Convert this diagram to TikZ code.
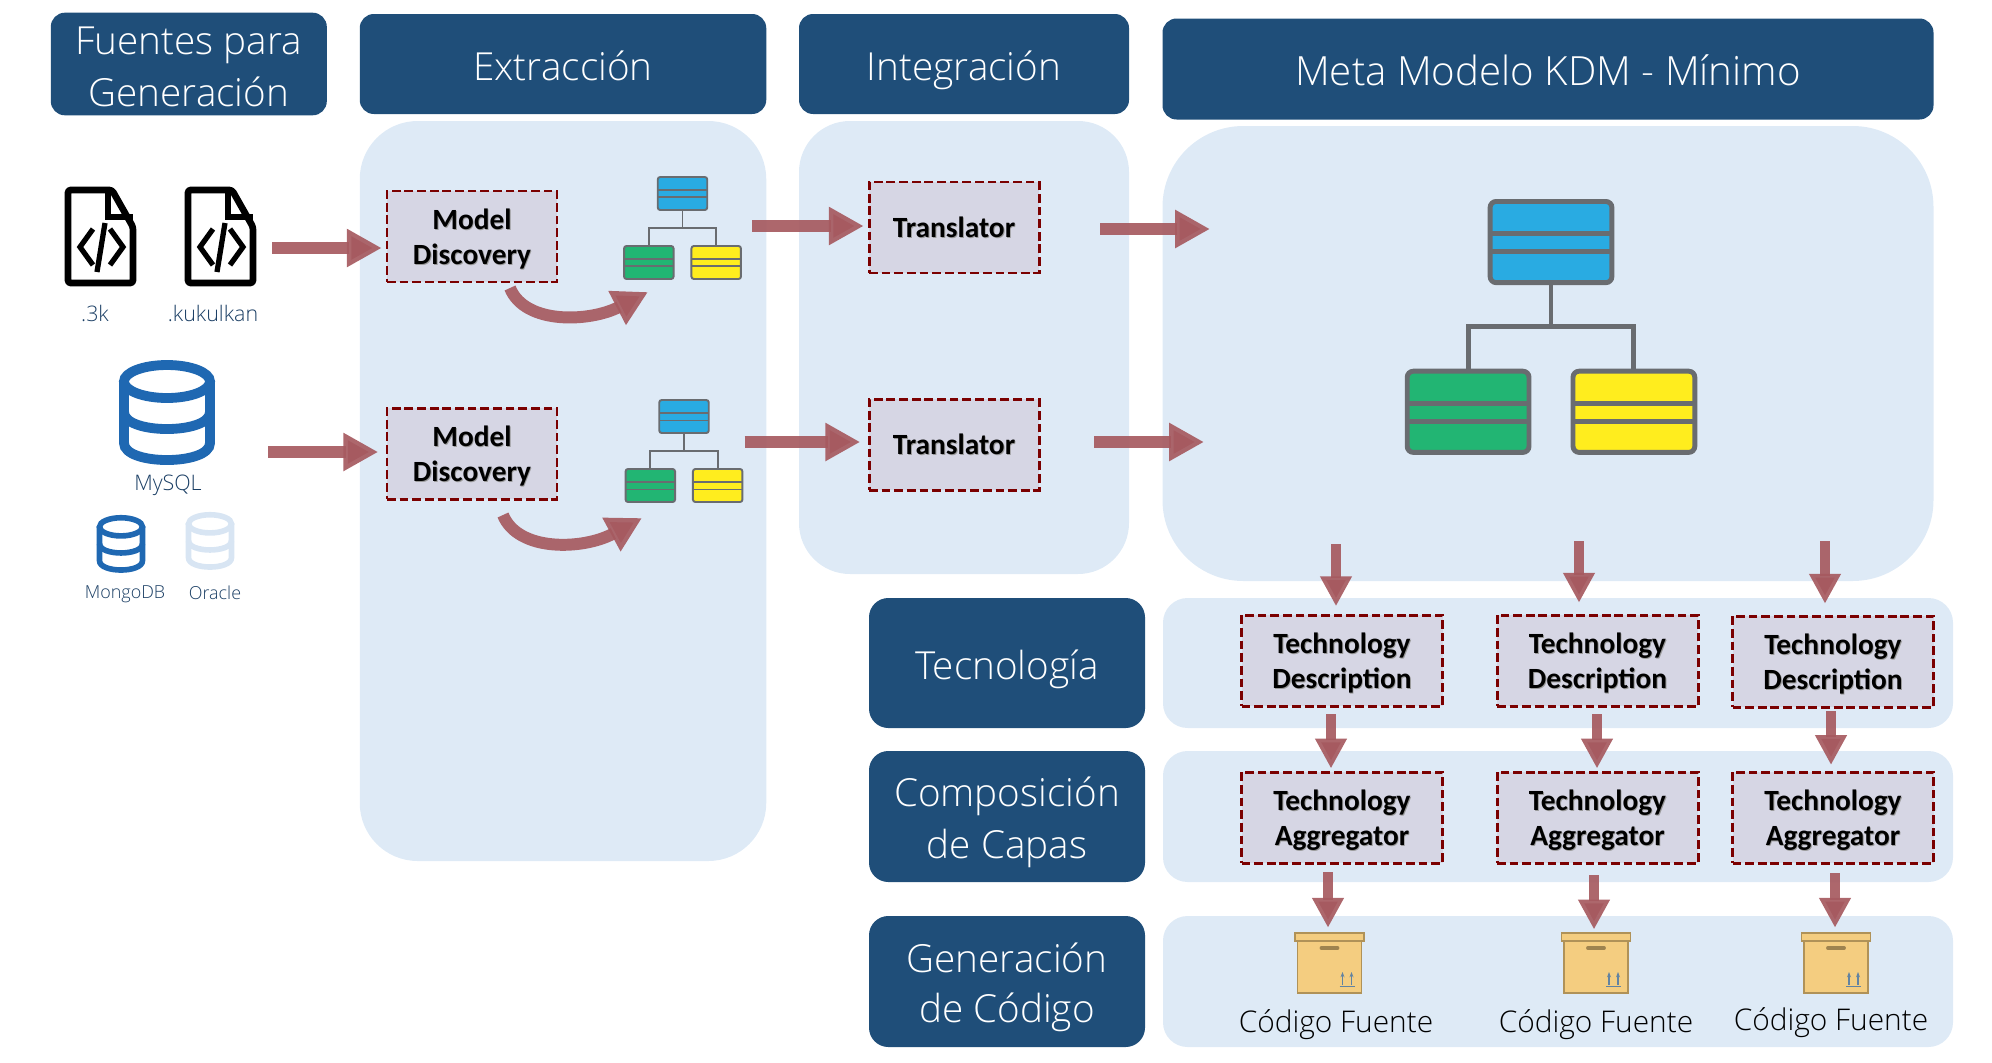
\documentclass[tikz,border=0pt]{standalone}
\usepackage{fontspec}
\usetikzlibrary{arrows.meta, calc}
\setmainfont{Open Sans}
\newfontfamily\lightfont{Open Sans Light}
\newfontfamily\boxfont{Carlito}
\definecolor{headblue}{RGB}{31, 78, 121}
\definecolor{labelblue}{RGB}{26, 62, 100}
\definecolor{panelblue}{RGB}{222, 234, 246}
\definecolor{boxgray}{RGB}{214, 214, 228}
\definecolor{dashred}{RGB}{123, 0, 0}
\definecolor{arrowred}{RGB}{166, 90, 96}
\definecolor{dbblue}{RGB}{31, 104, 178}
\definecolor{dbpale}{RGB}{216, 229, 243}
\definecolor{treeblue}{RGB}{41, 171, 226}
\definecolor{treegreen}{RGB}{34, 181, 115}
\definecolor{treeyellow}{RGB}{255, 237, 30}
\definecolor{treegray}{RGB}{105, 108, 112}
\definecolor{cartonfill}{RGB}{244, 205, 128}
\definecolor{cartonline}{RGB}{176, 146, 88}
\newcommand{\unitpx}{0.02cm}
\newcommand{\headline}[1]{\rule[-4.9pt]{0pt}{28.5pt}#1}
\newcommand{\toolline}[1]{\rule[-4.2pt]{0pt}{20pt}\rlap{\kern.5pt\raisebox{-.6pt}{\textcolor{black!40}{#1}}}#1}
\tikzset{
  headbox/.style={fill=headblue, rounded corners=8pt, text=white, align=center, inner sep=0pt, outer sep=0pt, font=\lightfont\fontsize{22}{28.5}\selectfont},
  panelbox/.style={fill=panelblue, inner sep=0pt, outer sep=0pt},
  toolbox/.style={fill=boxgray, draw=dashred, line width=1.7pt, dash pattern=on 5pt off 2.2pt, align=center, inner sep=0pt, outer sep=0pt, font=\boxfont\bfseries\fontsize{16.7}{20}\selectfont},
  flowarrow/.style={draw=arrowred, draw opacity=.92, line width=6.8pt, -{Triangle[length=19.8pt, width=20.4pt, fill=arrowred]}},
  downarrow/.style={draw=arrowred, draw opacity=.92, line width=5.4pt, -{Triangle[length=17pt, width=17pt, fill=arrowred]}},
  iconlabel/.style={text=labelblue, font=\lightfont\fontsize{12.2}{15}\selectfont, inner sep=0pt},
  smalllabel/.style={text=labelblue, font=\lightfont\fontsize{10.2}{12}\selectfont, inner sep=0pt},
  codelabel/.style={text=black, font=\lightfont\fontsize{17}{20}\selectfont, inner sep=0pt},
  treecell/.style={draw=treegray, inner sep=0pt, outer sep=0pt},
  cartonpart/.style={fill=cartonfill, draw=cartonline, line width=.8pt, inner sep=0pt, outer sep=0pt}
}
% name, colour, centre x, top y, scale, line width
\newcommand{\treecellat}[6]{
  \node[treecell, fill=#2, line width=#6, rounded corners=#5*1.4pt, minimum width=49.5*#5*\unitpx, minimum height=33*#5*\unitpx] (#1) at (#3, #4+17.5*#5) {};
  \draw[treegray, line width=#6] ($(#1.north west)!.4!(#1.south west)$) -- ($(#1.north east)!.4!(#1.south east)$);
  \draw[treegray, line width=#6] ($(#1.north west)!.62!(#1.south west)$) -- ($(#1.north east)!.62!(#1.south east)$);
}
% name, centre x, top y, scale, line width
\newcommand{\treeicon}[5]{
  \treecellat{#1top}{treeblue}{#2}{#3}{#4}{#5}
  \treecellat{#1left}{treegreen}{#2-33.7*#4}{#3+69*#4}{#4}{#5}
  \treecellat{#1right}{treeyellow}{#2+33.7*#4}{#3+69*#4}{#4}{#5}
  \coordinate (#1bar) at (#2, #3+52*#4);
  \draw[treegray, line width=#5] (#1top.south) -- (#1bar);
  \draw[treegray, line width=#5] (#1left.north) |- (#1bar) -| (#1right.north);
}
% left x, top y
\newcommand{\fileicon}[2]{
  \begin{scope}[shift={(#1, #2)}]
    \draw[black, line width=3.8pt, line join=round, rounded corners=1.5pt] (3, 3) -- (47, 3) -- (68, 40) -- (68, 96) -- (3, 96) -- cycle;
    \draw[black, line width=3.2pt] (43, 3) -- (43, 30) -- (68, 30);
    \draw[black, line width=3pt] (28, 42) -- (15, 60) -- (28, 78);
    \draw[black, line width=3pt] (45, 42) -- (58, 60) -- (45, 78);
    \draw[black, line width=3pt] (40, 36) -- (32, 85);
  \end{scope}
}
% colour, centre x, top y, x scale, y scale, line width
\newcommand{\dbicon}[6]{
  \begin{scope}[shift={(#2, #3)}, xscale=#4, yscale=#5]
    \draw[#1, line width=#6] (0, 21.5) ellipse [x radius=43, y radius=16.5];
    \draw[#1, line width=#6] (-43, 21.5) -- (-43, 83) .. controls (-43, 105.7) and (43, 105.7) .. (43, 83) -- (43, 21.5);
    \draw[#1, line width=#6] (-43, 52) .. controls (-43, 74.7) and (43, 74.7) .. (43, 52);
  \end{scope}
}
% name, centre x
\newcommand{\cartonicon}[2]{
  \node[cartonpart, minimum width=64*\unitpx, minimum height=52*\unitpx] (#1body) at (#2, 967) {};
  \node[cartonpart, minimum width=69*\unitpx, minimum height=8*\unitpx] (#1) at (#2, 937) {};
  \draw[cartonline!90!black, line width=2.2pt, line cap=round] (#2-8, 948) -- (#2+8, 948);
  \draw[headblue!70, line width=.8pt, -{Stealth[length=3pt]}] (#2+13, 985) -- (#2+13, 972);
  \draw[headblue!70, line width=.8pt, -{Stealth[length=3pt]}] (#2+22, 985) -- (#2+22, 972);
  \draw[headblue!70, line width=.9pt] (#2+10, 986.5) -- (#2+25, 986.5);
}

\begin{document}
\begin{tikzpicture}[x=\unitpx, y=-\unitpx]
  \useasboundingbox (0, 0) rectangle (1992, 1062);

  % Column headers
  \node[headbox, minimum width=276*\unitpx, minimum height=100*\unitpx] (fuenteshead) at (188.8, 64) {\headline{Fuentes para}\\\headline{Generación}};
  \node[headbox, minimum width=406.5*\unitpx, minimum height=100*\unitpx] (extrahead) at (563, 64) {\headline{Extracción}};
  \node[headbox, minimum width=330*\unitpx, minimum height=100*\unitpx] (integrahead) at (964, 64) {\headline{Integración}};
  \node[headbox, font=\lightfont\fontsize{22.9}{28.5}\selectfont, minimum width=771*\unitpx, minimum height=101*\unitpx] (metahead) at (1548, 69) {\headline{Meta Modelo KDM - Mínimo}};

  % Row headers
  \node[headbox, rounded corners=11pt, minimum width=276*\unitpx, minimum height=130*\unitpx] (tecnohead) at (1007, 663) {\headline{Tecnología}};
  \node[headbox, rounded corners=11pt, minimum width=276*\unitpx, minimum height=131*\unitpx] (comphead) at (1007, 816.5) {\headline{Composición}\\\headline{de Capas}};
  \node[headbox, rounded corners=11pt, minimum width=276*\unitpx, minimum height=131*\unitpx] (genhead) at (1007, 981.5) {\headline{Generación}\\\headline{de Código}};

  % Panels
  \node[panelbox, rounded corners=33pt, minimum width=406.5*\unitpx, minimum height=740*\unitpx] (extrapanel) at (563, 491) {};
  \node[panelbox, rounded corners=29pt, minimum width=330*\unitpx, minimum height=453*\unitpx] (integrapanel) at (964, 347.5) {};
  \node[panelbox, rounded corners=46pt, minimum width=771*\unitpx, minimum height=455*\unitpx] (metapanel) at (1548, 353.5) {};
  \node[panelbox, rounded corners=14pt, minimum width=790*\unitpx, minimum height=130*\unitpx] (tecnoband) at (1558, 663) {};
  \node[panelbox, rounded corners=14pt, minimum width=790*\unitpx, minimum height=131*\unitpx] (compband) at (1558, 816.5) {};
  \node[panelbox, rounded corners=14pt, minimum width=790*\unitpx, minimum height=131*\unitpx] (genband) at (1558, 981.5) {};

  % Sources
  \fileicon{65}{187}
  \fileicon{185}{187}
  \node[iconlabel] (trekalabel) at (95, 313) {.3k};
  \node[iconlabel] (kukulkanlabel) at (213, 313) {.kukulkan};
  \dbicon{dbblue}{167}{360}{1}{1}{5.6pt}
  \node[iconlabel] (mysqllabel) at (168, 485) {MySQL};
  \dbicon{dbblue}{121}{515}{.5}{.55}{3.2pt}
  \dbicon{dbpale}{210}{512}{.5}{.55}{3.2pt}
  \node[smalllabel] (mongolabel) at (125, 594) {MongoDB};
  \node[smalllabel] (oraclelabel) at (215, 593) {Oracle};

  % Discovery and translation
  \node[toolbox, minimum width=170*\unitpx, minimum height=91*\unitpx] (discoverya) at (472, 236.5) {\toolline{Model}\\\toolline{Discovery}};
  \node[toolbox, minimum width=170*\unitpx, minimum height=91*\unitpx] (discoveryb) at (472, 453.5) {\toolline{Model}\\\toolline{Discovery}};
  \treeicon{treea}{682.5}{176}{1}{1.1pt}
  \treeicon{treeb}{684}{399}{1}{1.1pt}
  \node[toolbox, minimum width=170*\unitpx, minimum height=91*\unitpx] (translatora) at (954, 227.5) {\toolline{Translator}};
  \node[toolbox, minimum width=170*\unitpx, minimum height=91*\unitpx] (translatorb) at (954, 444.5) {\toolline{Translator}};

  % Meta model
  \treeicon{treemeta}{1551}{199}{2.46}{2.8pt}

  % Technology boxes
  \node[toolbox, minimum width=201*\unitpx, minimum height=91*\unitpx] (describea) at (1342, 660.5) {\toolline{Technology}\\\toolline{Description}};
  \node[toolbox, minimum width=201*\unitpx, minimum height=91*\unitpx] (describeb) at (1597.5, 660.5) {\toolline{Technology}\\\toolline{Description}};
  \node[toolbox, minimum width=201*\unitpx, minimum height=91*\unitpx] (describec) at (1833, 661.5) {\toolline{Technology}\\\toolline{Description}};
  \node[toolbox, minimum width=201*\unitpx, minimum height=91*\unitpx] (aggregatea) at (1342, 817.5) {\toolline{Technology}\\\toolline{Aggregator}};
  \node[toolbox, minimum width=201*\unitpx, minimum height=91*\unitpx] (aggregateb) at (1597.5, 817.5) {\toolline{Technology}\\\toolline{Aggregator}};
  \node[toolbox, minimum width=201*\unitpx, minimum height=91*\unitpx] (aggregatec) at (1833, 817.5) {\toolline{Technology}\\\toolline{Aggregator}};

  % Generated code
  \cartonicon{cartona}{1329.5}
  \cartonicon{cartonb}{1596}
  \cartonicon{cartonc}{1836}
  \node[codelabel] (codea) at (1336, 1025) {Código Fuente};
  \node[codelabel] (codeb) at (1596, 1025) {Código Fuente};
  \node[codelabel] (codec) at (1831, 1023) {Código Fuente};

  % Free arrow ends
  \coordinate (filetail) at (272, 248);
  \coordinate (dbtail) at (268, 452);
  \coordinate (curveastart) at (510, 288);
  \coordinate (curveaend) at (648, 292);
  \coordinate (curvebstart) at (503, 515);
  \coordinate (curvebend) at (642, 518);
  \coordinate (tailtransa) at (752, 226);
  \coordinate (tailtransb) at (744.5, 442);
  \coordinate (tailmetaa) at (1100, 229);
  \coordinate (tailmetab) at (1094, 442);
  \coordinate (metatipa) at (1210, 229);
  \coordinate (metatipb) at (1204, 442);
  \coordinate (taildesca) at (1336, 544);
  \coordinate (taildescb) at (1579, 541);
  \coordinate (taildescc) at (1825, 541);
  \coordinate (tailaggra) at (1331, 714);
  \coordinate (tailaggrb) at (1597, 714);
  \coordinate (tailaggrc) at (1831, 711);
  \coordinate (tailgena) at (1328, 872);
  \coordinate (tailgenb) at (1594, 875);
  \coordinate (tailgenc) at (1835, 873);

  % Arrows
  \draw[flowarrow, shorten >=3pt] (filetail) -- (filetail -| discoverya.west);
  \draw[flowarrow, shorten >=5pt] (dbtail) -- (dbtail -| discoveryb.west);
  \draw[flowarrow] (curveastart) .. controls (525, 325) and (590, 322) .. (curveaend);
  \draw[flowarrow] (curvebstart) .. controls (518, 552) and (583, 550) .. (curvebend);
  \draw[flowarrow, shorten >=3pt] (tailtransa) -- (tailtransa -| translatora.west);
  \draw[flowarrow, shorten >=5pt] (tailtransb) -- (tailtransb -| translatorb.west);
  \draw[flowarrow] (tailmetaa) -- (metatipa);
  \draw[flowarrow] (tailmetab) -- (metatipb);
  \draw[downarrow, shorten >=5pt] (taildesca) -- (taildesca |- describea.north);
  \draw[downarrow, shorten >=7pt] (taildescb) -- (taildescb |- describeb.north);
  \draw[downarrow, shorten >=7pt] (taildescc) -- (taildescc |- describec.north);
  \draw[downarrow, shorten >=2pt] (tailaggra) -- (tailaggra |- aggregatea.north);
  \draw[downarrow, shorten >=2pt] (tailaggrb) -- (tailaggrb |- aggregateb.north);
  \draw[downarrow, shorten >=4pt] (tailaggrc) -- (tailaggrc |- aggregatec.north);
  \draw[downarrow, shorten >=3pt] (tailgena) -- (tailgena |- cartona.north);
  \draw[downarrow, shorten >=2pt] (tailgenb) -- (tailgenb |- cartonb.north);
  \draw[downarrow, shorten >=3pt] (tailgenc) -- (tailgenc |- cartonc.north);
\end{tikzpicture}
\end{document}
